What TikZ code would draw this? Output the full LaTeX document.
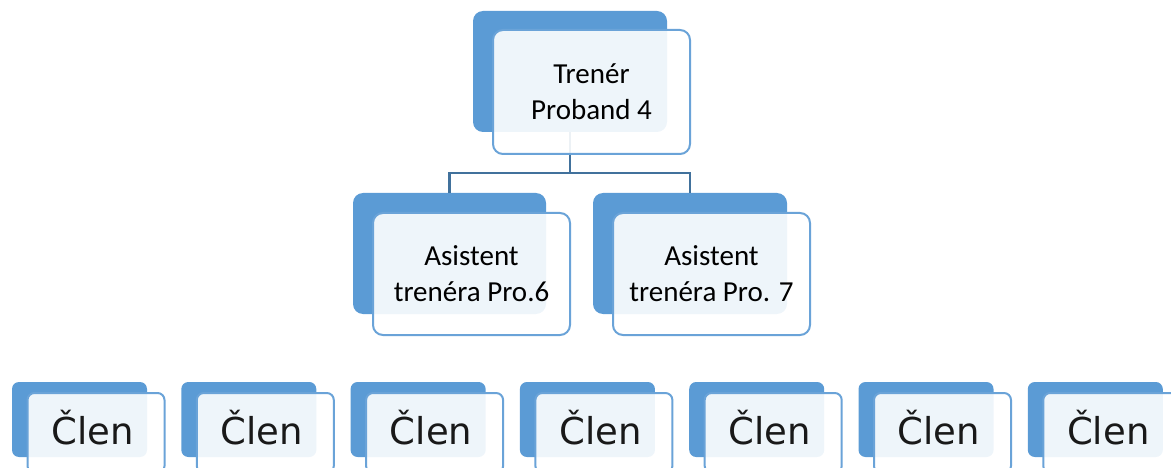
\documentclass[tikz,border=0pt]{standalone}
\usepackage{fontspec}
\setmainfont{Carlito}
\newfontfamily\memberfont{DejaVu Sans}
\definecolor{backblue}{HTML}{5B9BD5}
\definecolor{edgeblue}{HTML}{6AA3D8}
\definecolor{linkblue}{HTML}{41719C}
\begin{document}
\begin{tikzpicture}[x=1pt,y=-1pt,
  backbox/.style={rectangle, rounded corners=10pt, fill=backblue, inner sep=0pt, outer sep=0pt},
  frontbox/.style={rectangle, rounded corners=10pt, fill=white, fill opacity=0.9, text opacity=1, draw=edgeblue, line width=2pt, inner sep=0pt, outer sep=0pt, align=center, text=black, font=\fontsize{29}{36}\selectfont},
  smallback/.style={backbox, rounded corners=7pt, minimum width=135pt, minimum height=75pt},
  smallfront/.style={frontbox, rounded corners=7pt, minimum width=137pt, minimum height=80pt},
  membertext/.style={font=\memberfont\fontsize{37}{44}\selectfont, inner sep=0pt, anchor=base, text=black!90},
  link/.style={draw=linkblue, line width=2.2pt}]
\useasboundingbox (0,0) rectangle (1171,468);
\clip (0,0) rectangle (1171,468);
% top
\node[backbox, minimum width=194pt, minimum height=121pt] (tb) at (570,71.5) {};
% middle backs
\node[backbox, minimum width=193pt, minimum height=121pt] (lb) at (449.5,253.5) {};
\node[backbox, minimum width=194pt, minimum height=121pt] (rb) at (690,253.5) {};
% connectors
\draw[link] (tb.south) -- ++(0,41) coordinate (j) -| (lb.north);
\draw[link] (j) -| (rb.north);
% fronts
\node[frontbox, minimum width=197pt, minimum height=124pt] (tf) at (591.5,92) {Trenér\\Proband 4};
\node[frontbox, minimum width=197pt, minimum height=122pt] (lf) at (471.5,274) {Asistent\\trenéra Pro.6};
\node[frontbox, minimum width=197pt, minimum height=122pt] (rf) at (711.5,274) {Asistent\\trenéra Pro. 7};
% members
\foreach \i in {0,...,6} {
  \pgfmathsetmacro{\bx}{12+\i*169.3}
  \node[smallback] (mb\i) at (\bx+67.5,419.5) {};
  \node[smallfront] (mf\i) at (\bx+84,433) {};
  \node[membertext] (mt\i) at (\bx+80.5,444) {Člen};
}
\end{tikzpicture}
\end{document}
